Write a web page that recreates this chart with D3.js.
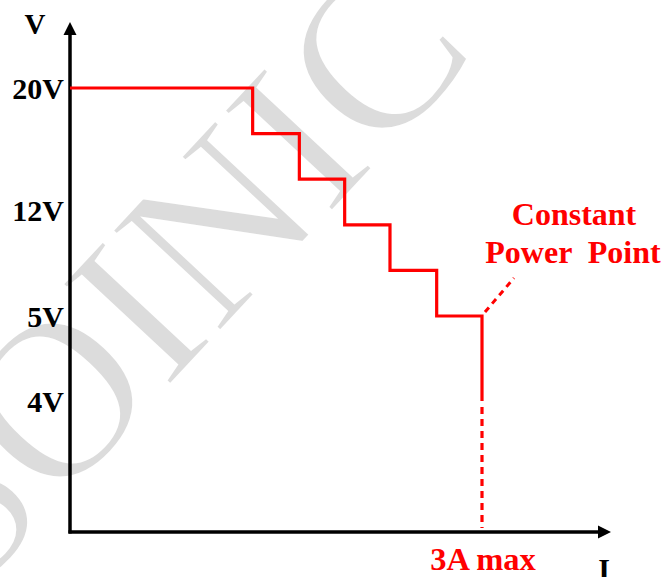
<!DOCTYPE html>
<html>
<head>
<meta charset="utf-8">
<script src="https://cdn.jsdelivr.net/npm/d3@7/dist/d3.min.js"></script>
<style>
  html, body { margin: 0; padding: 0; background: #fff; }
  svg { display: block; }
</style>
</head>
<body>
<svg id="chart" width="665" height="577"></svg>
<script>
// ---- data ----
const stepCurrents = [0, 1.33, 1.67, 2.0, 2.33, 2.67, 3.0];   // A
const stepVoltages = [20, 17, 14, 11, 8, 5, 4];               // V
const maxCurrent = 3;       // A
const minVoltage = 4;       // V (end of solid line)
const tickValues = [20, 12, 5, 4];
const tickLabels = ["20V", "12V", "5V", "4V"];
const watermark = "SOINIC";

const svg = d3.select("#chart");
const x0 = 70, yAxisY = 532;

// scales (schematic: piecewise linear voltage axis)
const x = d3.scaleLinear().domain([0, 3]).range([x0, 482]);
const y = d3.scaleLinear().domain([0, 4, 5, 20]).range([yAxisY, 401, 316, 88]);

const serif = "'Liberation Serif', 'Times New Roman', serif";

// watermark
svg.append("text")
  .attr("transform", "translate(170,276) rotate(-47)")
  .attr("text-anchor", "middle")
  .attr("dy", "0.33em")
  .attr("font-family", serif)
  .attr("font-size", 225)
  .attr("fill", "#dcdcdc")
  .attr("stroke", "#fff")
  .attr("stroke-width", 2.5)
  .text(watermark);

// axes
const axisG = svg.append("g").attr("stroke", "#000").attr("stroke-width", 3.5);
axisG.append("line").attr("x1", x0).attr("y1", yAxisY + 1.5).attr("x2", x0).attr("y2", 32);
axisG.append("line").attr("x1", x0 - 1.5).attr("y1", yAxisY).attr("x2", 600).attr("y2", yAxisY);
svg.append("path").attr("d", `M${x0},22 L${x0 + 6.5},35 L${x0 - 6.5},35 Z`).attr("fill", "#000");
svg.append("path").attr("d", `M611,${yAxisY} L598,${yAxisY - 6.5} L598,${yAxisY + 6.5} Z`).attr("fill", "#000");

// axis titles
svg.append("text").attr("x", 35).attr("y", 34).attr("text-anchor", "middle")
  .attr("font-family", serif).attr("font-weight", "bold").attr("font-size", 29).text("V");
svg.append("text").attr("x", 604).attr("y", 579).attr("text-anchor", "middle")
  .attr("font-family", serif).attr("font-weight", "bold").attr("font-size", 30).text("I");

// tick labels
svg.append("g").selectAll("text").data(tickValues).join("text")
  .attr("x", 64)
  .attr("y", d => y(d))
  .attr("dy", "0.38em")
  .attr("text-anchor", "end")
  .attr("font-family", serif).attr("font-weight", "bold").attr("font-size", 30)
  .attr("fill", "#000")
  .text((d, i) => tickLabels[i]);

// step line
const pts = stepCurrents.map((c, i) => [c, stepVoltages[i]]);
const line = d3.line().x(d => x(d[0])).y(d => y(d[1])).curve(d3.curveStepAfter);
svg.append("path").datum(pts)
  .attr("d", line)
  .attr("fill", "none").attr("stroke", "#ff0000").attr("stroke-width", 3.2)
  .attr("stroke-linejoin", "miter");

// dotted continuation down to axis
svg.append("line")
  .attr("x1", x(maxCurrent)).attr("y1", y(minVoltage) + 6)
  .attr("x2", x(maxCurrent)).attr("y2", yAxisY - 4)
  .attr("stroke", "#ff0000").attr("stroke-width", 3.2)
  .attr("stroke-dasharray", "7,5");

// leader to constant power point
const cpx = x(maxCurrent), cpy = y(5);
svg.append("line")
  .attr("x1", cpx + 3).attr("y1", cpy - 4)
  .attr("x2", cpx + 32).attr("y2", cpy - 38)
  .attr("stroke", "#ff0000").attr("stroke-width", 3)
  .attr("stroke-dasharray", "6,5");

// annotations
const red = svg.append("g").attr("font-family", serif).attr("font-weight", "bold")
  .attr("fill", "#ff0000").attr("text-anchor", "middle");
red.append("text").attr("x", 574).attr("y", 225).attr("font-size", 32).text("Constant");
red.append("text").attr("x", 573).attr("y", 263).attr("font-size", 32)
  .style("white-space", "pre").text("Power  Point");
red.append("text").attr("x", x(maxCurrent) + 1).attr("y", 570).attr("font-size", 32.5).text("3A max");
</script>
</body>
</html>
